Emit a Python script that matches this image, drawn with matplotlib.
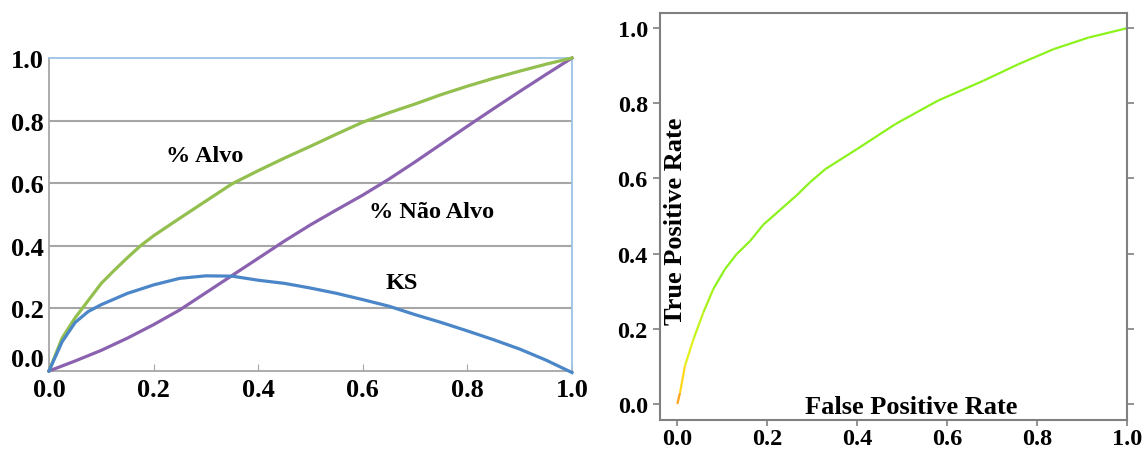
import numpy as np
import matplotlib
matplotlib.use("Agg")
import matplotlib.pyplot as plt
from matplotlib.collections import LineCollection

plt.rcParams['font.family'] = ['Liberation Serif', 'DejaVu Serif']
plt.rcParams['font.weight'] = 'bold'

# curvas KS (esquerda)
x_alvo = [0.0, 0.025, 0.05, 0.075, 0.1, 0.125, 0.15, 0.175, 0.2, 0.25, 0.3,
          0.35, 0.4, 0.45, 0.5, 0.55, 0.6, 0.65, 0.7, 0.75, 0.8, 0.85, 0.9,
          0.95, 1.0]
alvo = [0.0, 0.105, 0.17, 0.225, 0.28, 0.322, 0.362, 0.4, 0.432, 0.488, 0.543,
        0.598, 0.64, 0.68, 0.718, 0.757, 0.795, 0.825, 0.853, 0.883, 0.91,
        0.935, 0.958, 0.98, 1.0]
x_nao = [0.0, 0.05, 0.1, 0.15, 0.2, 0.25, 0.3, 0.35, 0.4, 0.45, 0.5, 0.55,
         0.6, 0.65, 0.7, 0.75, 0.8, 0.85, 0.9, 0.95, 1.0]
nao_alvo = [0.0, 0.032, 0.066, 0.105, 0.148, 0.195, 0.25, 0.305, 0.36, 0.415,
            0.467, 0.515, 0.562, 0.613, 0.668, 0.725, 0.782, 0.838, 0.893,
            0.947, 1.0]
x_ks = [0.0, 0.025, 0.05, 0.075, 0.1, 0.125, 0.15, 0.2, 0.25, 0.3, 0.35, 0.4,
        0.45, 0.5, 0.55, 0.6, 0.65, 0.7, 0.75, 0.8, 0.85, 0.9, 0.95, 1.0]
ks = [0.0, 0.093, 0.155, 0.19, 0.212, 0.23, 0.248, 0.275, 0.296, 0.304, 0.303,
      0.29, 0.28, 0.265, 0.248, 0.228, 0.207, 0.18, 0.155, 0.128, 0.1, 0.07,
      0.035, -0.005]

# curva ROC (direita)
fpr = [0.0, 0.006, 0.017, 0.036, 0.058, 0.08, 0.106, 0.132, 0.162, 0.191,
       0.228, 0.265, 0.295, 0.329, 0.399, 0.485, 0.579, 0.68, 0.758, 0.836,
       0.914, 1.0]
tpr = [0.0, 0.03, 0.102, 0.173, 0.244, 0.306, 0.359, 0.399, 0.434, 0.477,
       0.516, 0.555, 0.59, 0.625, 0.678, 0.745, 0.807, 0.86, 0.904, 0.944,
       0.975, 1.0]

ticks = [0.0, 0.2, 0.4, 0.6, 0.8, 1.0]
tick_labels = ["0.0", "0.2", "0.4", "0.6", "0.8", "1.0"]

fig = plt.figure(figsize=(11.47, 4.52), dpi=100)

# ---- painel esquerdo
ax1 = fig.add_axes([0.0427, 0.177, 0.456, 0.6925])
ax1.set_xlim(0, 1)
ax1.set_ylim(0, 1)
for y in [0.2, 0.4, 0.6, 0.8]:
    ax1.axhline(y, color="#a6a6a6", lw=1.5, zorder=1)
ax1.plot(x_nao, nao_alvo, color="#8a62b0", lw=2.3, clip_on=False, zorder=3)
ax1.plot(x_alvo, alvo, color="#93bf4f", lw=2.3, clip_on=False, zorder=3)
ax1.plot(x_ks, ks, color="#4a86c8", lw=2.3, clip_on=False, zorder=4)

ax1.text(0.298, 0.687, "% Alvo", ha="center", va="center", fontsize=17.5)
ax1.text(0.732, 0.508, "% Não Alvo", ha="center", va="center", fontsize=17.5)
ax1.text(0.675, 0.284, "KS", ha="center", va="center", fontsize=17.5)

ax1.spines["left"].set_color("#a6a6a6")
ax1.spines["bottom"].set_color("#a6a6a6")
ax1.spines["top"].set_color("#9dc3e6")
ax1.spines["right"].set_color("#9dc3e6")
for s in ax1.spines.values():
    s.set_linewidth(1.3)
ax1.set_xticks(ticks)
ax1.set_xticklabels(tick_labels, fontsize=19)
ax1.set_yticks(ticks)
ax1.set_yticklabels(tick_labels, fontsize=19)
ax1.get_yticklabels()[0].set_va("bottom")
ax1.tick_params(axis="x", direction="in", length=5, color="#a6a6a6", pad=5)
ax1.tick_params(axis="y", length=0, pad=4)

# ---- painel direito
ax2 = fig.add_axes([0.5757, 0.0686, 0.4071, 0.901])
ax2.set_xlim(-0.0378, 1.0)
ax2.set_ylim(-0.0426, 1.041)
pts = np.column_stack([fpr, tpr])
segs = np.stack([pts[:-1], pts[1:]], axis=1)
cols = ["#ffa41a", "#ffd81a", "#e2f01c", "#c4f21c", "#a8f21c"]
cols = cols + ["#8cf21c"] * (len(segs) - len(cols))
ax2.add_collection(LineCollection(segs, colors=cols, linewidths=1.6))
ax2.plot([1.0], [1.0], "o", color="#2040ff", ms=1.5)

ax2.text(-0.003, 0.49, "True Positive Rate", rotation=90, ha="center",
         va="center", fontsize=19)
ax2.text(0.52, -0.023, "False Positive Rate", ha="center", va="baseline",
         fontsize=19)

for s in ax2.spines.values():
    s.set_color("#808080")
    s.set_linewidth(1.5)
ax2.set_xticks(ticks)
ax2.set_xticklabels(tick_labels, fontsize=17.5)
ax2.set_yticks(ticks)
ax2.set_yticklabels(tick_labels, fontsize=17.5)
ax2.tick_params(axis="both", direction="out", length=5, color="#808080",
                width=1.2, pad=4)
ax2.tick_params(axis="x", length=4, pad=2)
ax2.tick_params(axis="y", right=True)

fig.savefig("out.png", dpi=100)
